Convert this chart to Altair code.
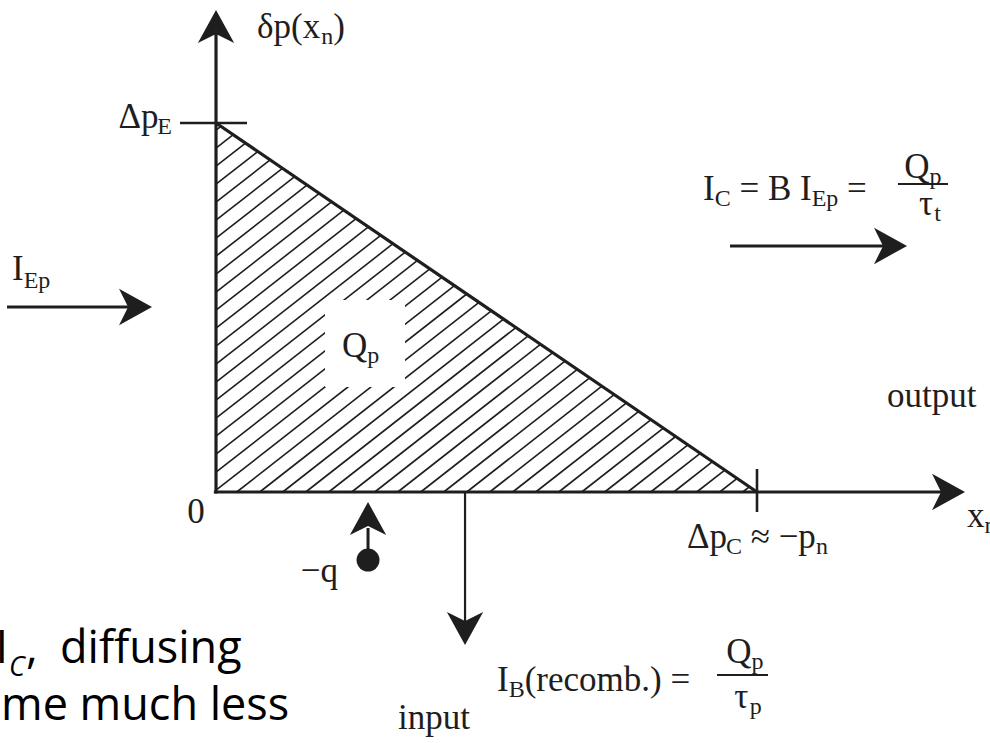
import altair as alt
import pandas as pd

# Excess-hole profile across the neutral base of a p-n-p transistor:
# linear from Δp_E at the emitter edge down to ≈0 at the collector edge.
x_n = [0.0, 1.0]        # position across the base (in units of the base width)
delta_p = [1.0, 0.0]    # excess hole density (in units of Δp_E)

INK = "#1e1e1e"
SERIF = "Liberation Serif"
CASUAL = "Comic Sans MS, Open Sans, sans-serif"

xs = alt.Scale(domain=[-0.3993, 1.4307], nice=False, zero=False)
ys = alt.Scale(domain=[-0.6802, 1.3333], nice=False, zero=False)


def X(f="x"):
    return alt.X(f"{f}:Q", scale=xs, axis=None)


def Y(f="y"):
    return alt.Y(f"{f}:Q", scale=ys, axis=None)


def pt(x, y):
    return pd.DataFrame({"x": [x], "y": [y]})


def seg(x1, y1, x2, y2, width=3.0, color=INK):
    d = pd.DataFrame({"x": [x1], "y": [y1], "x2": [x2], "y2": [y2]})
    return alt.Chart(d).mark_rule(color=color, strokeWidth=width, strokeCap="butt").encode(
        x=X(), y=Y(), x2=alt.X2("x2:Q"), y2=alt.Y2("y2:Q"))


# Stealth arrow head with its tip at the anchor point, pointing up before rotation
HEAD = "M0,0L1.1,2L0,1.45L-1.1,2Z"


def head(x, y, angle=0, size=1089):
    return alt.Chart(pt(x, y)).mark_point(
        shape=HEAD, filled=True, size=size, angle=angle, color=INK, opacity=1, strokeWidth=0
    ).encode(x=X(), y=Y())


# advance widths (em) for Times-metric glyphs used in the labels
ADV = {"I": 0.333, "C": 0.667, "B": 0.667, "E": 0.611, "Q": 0.722, "p": 0.5, "t": 0.278,
       "n": 0.5, "x": 0.5, " ": 0.25, "=": 0.564, "(": 0.333, ")": 0.333, "r": 0.333,
       "e": 0.444, "c": 0.444, "o": 0.5, "m": 0.778, "b": 0.5, ".": 0.25, "≈": 0.549,
       "−": 0.564, "Δ": 0.612, "δ": 0.5, "τ": 0.44}


def width(text, size):
    return sum(ADV.get(ch, 0.5) for ch in text) * size


def rich(pieces, x, y, size=35, sub=24, drop=7, align="left", font=SERIF, color=INK):
    """Text with subscripts: pieces is a list of (text, is_subscript).
    Spaces at either end of a piece are turned into horizontal offsets."""
    ws = [width(t, sub if s else size) for t, s in pieces]
    total = sum(ws)
    off = {"left": 0.0, "center": -total / 2, "right": -total}[align]
    layers = []
    for (t, s), w in zip(pieces, ws):
        fs = sub if s else size
        lead = len(t) - len(t.lstrip(" "))
        shown = t.strip(" ")
        layers.append(alt.Chart(pt(x, y)).mark_text(
            text=shown, align="left", baseline="alphabetic",
            dx=off + lead * ADV[" "] * fs, dy=drop if s else 0,
            font=font, fontSize=fs, color=color
        ).encode(x=X(), y=Y()))
        off += w
    return layers


layers = []

# diagonal hatching of the stored charge Q_p under the profile
slope = (18 / 369) / (23 / 541)
step = 23 / 541
c = 0.0383
while c - step > -1 / slope:
    c -= step
rows = []
while c < 1.0:
    if c >= 0:
        sx, sy = c, 0.0
    else:
        sx, sy = 0.0, -slope * c
    ex = (1 + slope * c) / (1 + slope)
    ey = 1 - ex
    if ex - sx > 1e-3:
        rows.append({"x": sx, "y": sy, "x2": ex, "y2": ey})
    c += step
hatch = pd.DataFrame(rows)
layers.append(alt.Chart(hatch).mark_rule(color=INK, strokeWidth=1.6).encode(
    x=X(), y=Y(), x2=alt.X2("x2:Q"), y2=alt.Y2("y2:Q")))

# clear patch behind the Q_p label
layers.append(alt.Chart(pd.DataFrame({"x": [0.2015], "y": [0.5203], "x2": [0.3494], "y2": [0.2846]}))
              .mark_rect(color="white").encode(x=X(), y=Y(), x2=alt.X2("x2:Q"), y2=alt.Y2("y2:Q")))

# the linear profile itself
profile = pd.DataFrame({"x": x_n, "y": delta_p})
layers.append(alt.Chart(profile).mark_line(color=INK, strokeWidth=3.2).encode(x=X(), y=Y()))

# axes with arrow heads
layers.append(seg(0, -0.004, 0, 1.252, width=3.2))
layers.append(head(0, 1.306, 0))
layers.append(seg(-0.004, 0, 1.3475, 0, width=3.2))
layers.append(head(1.3845, 0, 90))

# tick marks at Δp_E and at the collector edge
layers.append(seg(-0.0665, 1.0, 0.0573, 1.0, width=2.6))
layers.append(seg(1.0, 0.0623, 1.0, -0.0542, width=2.6))

# emitter injection arrow
layers.append(seg(-0.3863, 0.5014, -0.1497, 0.5014, width=3))
layers.append(head(-0.1183, 0.5014, 90))

# collector current arrow
layers.append(seg(0.9501, 0.6667, 1.2458, 0.6667, width=3))
layers.append(head(1.2773, 0.6667, 90))

# electron entering the base
layers.append(seg(0.2810, -0.0976, 0.2810, -0.1843, width=3))
layers.append(head(0.2810, -0.0271, 0))
layers.append(alt.Chart(pt(0.2810, -0.1843)).mark_point(
    shape="circle", filled=True, size=529, color=INK, opacity=1).encode(x=X(), y=Y()))

# recombination (base) current arrow
layers.append(seg(0.4603, 0.0, 0.4603, -0.3604, width=2.2))
layers.append(head(0.4603, -0.4146, 180))

# fraction bars
layers.append(seg(1.2606, 0.8347, 1.3530, 0.8347, width=2))
layers.append(seg(0.9261, -0.4959, 1.0203, -0.4959, width=2))

# labels
layers += rich([("Δp", False), ("E", True)], -0.0813, 0.9864, align="right", drop=6)
layers += rich([("δp(x", False), ("n", True), (")", False)], 0.0758, 1.2304, drop=6)
layers += rich([("0", False)], -0.0370, -0.0840, align="center")
layers += rich([("Δp", False), ("C", True), (" ≈ −p", False), ("n", True)], 0.8706, -0.1518, drop=6)
layers += rich([("x", False), ("n", True)], 1.3882, -0.0949, drop=6)
layers += rich([("Q", False), ("p", True)], 0.2329, 0.3659, drop=6)
layers += rich([("I", False), ("Ep", True)], -0.3771, 0.5745, drop=8)
layers += rich([("I", False), ("C", True), (" = B I", False), ("Ep", True), (" =", False)],
               0.9002, 0.7913, drop=6)
layers += rich([("Q", False), ("p", True)], 1.3068, 0.8509, align="center", drop=6)
layers += rich([("τ", False), ("t", True)], 1.3198, 0.7507, align="center", drop=6)
layers += rich([("output", False)], 1.2403, 0.2304)
layers += rich([("−q", False)], 0.2255, -0.2439, align="right")
layers += rich([("input", False)], 0.3364, -0.6423)
layers += rich([("I", False), ("B", True), ("(recomb.) =", False)], 0.5194, -0.5393, drop=6)
layers += rich([("Q", False), ("p", True)], 0.9778, -0.4634, align="center", drop=6)
layers += rich([("τ", False), ("p", True)], 0.9834, -0.5854, align="center", drop=6)

# handwritten-style note along the lower left edge
note = dict(font=CASUAL, color="#000000", baseline="alphabetic")
layers.append(alt.Chart(pt(-0.3845, -0.4634)).mark_text(text="I", align="right", fontSize=45, **note)
              .encode(x=X(), y=Y()))
layers.append(alt.Chart(pt(-0.3826, -0.4986)).mark_text(text="C", align="left", fontSize=27,
                                                        fontStyle="italic", **note).encode(x=X(), y=Y()))
layers.append(alt.Chart(pt(-0.3512, -0.4634)).mark_text(text=",", align="left", fontSize=45, **note)
              .encode(x=X(), y=Y()))
layers.append(alt.Chart(pt(-0.2884, -0.4634)).mark_text(text="diffusing", align="left", fontSize=45, **note)
              .encode(x=X(), y=Y()))
layers.append(alt.Chart(pt(-0.3975, -0.6179)).mark_text(text="me much less", align="left", fontSize=45, **note)
              .encode(x=X(), y=Y()))

chart = alt.layer(*layers).properties(
    width=990, height=743, autosize=alt.AutoSizeParams(type="none"), padding=0
).configure(background="white").configure_view(stroke=None)

chart.save("out.html", embed_options={"renderer": "svg", "actions": False})
